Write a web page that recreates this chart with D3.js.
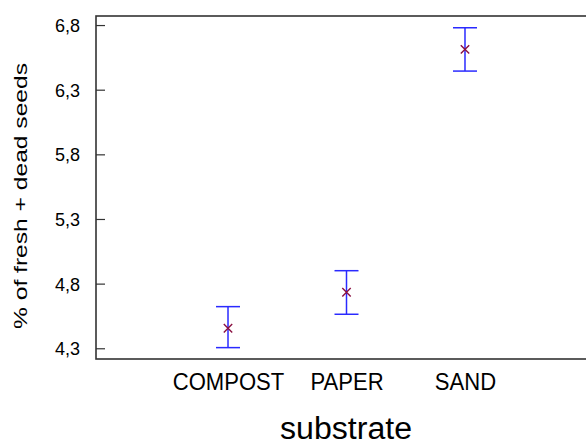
<!DOCTYPE html>
<html>
<head>
<meta charset="utf-8">
<script src="https://cdn.jsdelivr.net/npm/d3@7"></script>
<style>
  html, body { margin: 0; padding: 0; background: #fff; overflow: hidden; }
  text { font-family: "Liberation Sans", Arial, sans-serif; fill: #000; }
</style>
</head>
<body>
<div id="chart"></div>
<script>
// data
const categories = ["COMPOST", "PAPER", "SAND"];
const means = [4.455, 4.733, 6.612];
const lowerLimits = [4.305, 4.563, 6.444];
const upperLimits = [4.622, 4.90, 6.779];
const yTicks = [4.3, 4.8, 5.3, 5.8, 6.3, 6.8];

const W = 586, H = 446;
const plot = { left: 96, top: 16, right: 597, bottom: 359 };

const svg = d3.select("#chart").append("svg")
    .attr("width", W)
    .attr("height", H);

const x = d3.scalePoint()
    .domain(categories)
    .range([plot.left, plot.right])
    .padding(1.114);

const y = d3.scaleLinear()
    .domain([4.217, 6.870])
    .range([plot.bottom, plot.top]);

// frame
svg.append("rect")
    .attr("x", plot.left)
    .attr("y", plot.top)
    .attr("width", plot.right - plot.left)
    .attr("height", plot.bottom - plot.top)
    .attr("fill", "none")
    .attr("stroke", "#333")
    .attr("stroke-width", 1.6);

// y axis, ticks pointing inward
const yAxis = svg.append("g")
    .attr("transform", `translate(${plot.left},0)`)
    .call(d3.axisRight(y)
        .tickValues(yTicks)
        .tickSize(9)
        .tickFormat(d => d3.format(".1f")(d).replace(".", ",")));
yAxis.select(".domain").remove();
yAxis.selectAll(".tick line").attr("stroke", "#333").attr("stroke-width", 1.2);
yAxis.selectAll(".tick text")
    .attr("x", -16)
    .attr("text-anchor", "end")
    .attr("font-size", 18)
    .attr("dy", "0.36em");

// x category labels (a little condensed, like the original)
const xAxis = svg.append("g")
    .attr("transform", `translate(0,${plot.bottom})`)
    .call(d3.axisBottom(x).tickSize(0));
xAxis.select(".domain").remove();
xAxis.selectAll(".tick text")
    .attr("y", 31)
    .attr("dy", 0)
    .attr("font-size", 24)
    .attr("transform", "scale(0.92,1)");

// axis titles
svg.append("text")
    .attr("x", 346)
    .attr("y", 439)
    .attr("text-anchor", "middle")
    .attr("font-size", 31)
    .attr("textLength", 132)
    .attr("lengthAdjust", "spacingAndGlyphs")
    .text("substrate");

svg.append("text")
    .attr("transform", "translate(27,196) rotate(-90)")
    .attr("text-anchor", "middle")
    .attr("font-size", 18)
    .attr("textLength", 266)
    .attr("lengthAdjust", "spacingAndGlyphs")
    .text("% of fresh + dead seeds");

// error bars
const capHalf = 12;
const bars = svg.append("g")
    .selectAll("g")
    .data(categories)
    .join("g")
    .attr("stroke", "#2a2aff")
    .attr("stroke-width", 1.5);

bars.append("line")
    .attr("x1", d => x(d)).attr("x2", d => x(d))
    .attr("y1", (d, i) => y(upperLimits[i]))
    .attr("y2", (d, i) => y(lowerLimits[i]));
bars.append("line")
    .attr("x1", d => x(d) - capHalf).attr("x2", d => x(d) + capHalf)
    .attr("y1", (d, i) => y(upperLimits[i]))
    .attr("y2", (d, i) => y(upperLimits[i]));
bars.append("line")
    .attr("x1", d => x(d) - capHalf).attr("x2", d => x(d) + capHalf)
    .attr("y1", (d, i) => y(lowerLimits[i]))
    .attr("y2", (d, i) => y(lowerLimits[i]));

// mean markers
svg.append("g")
    .selectAll("path")
    .data(categories)
    .join("path")
    .attr("transform", (d, i) => `translate(${x(d)},${y(means[i])})`)
    .attr("d", d3.symbol(d3.symbolTimes, 48))
    .attr("fill", "none")
    .attr("stroke", "#8a1040")
    .attr("stroke-width", 1.4);
</script>
</body>
</html>
